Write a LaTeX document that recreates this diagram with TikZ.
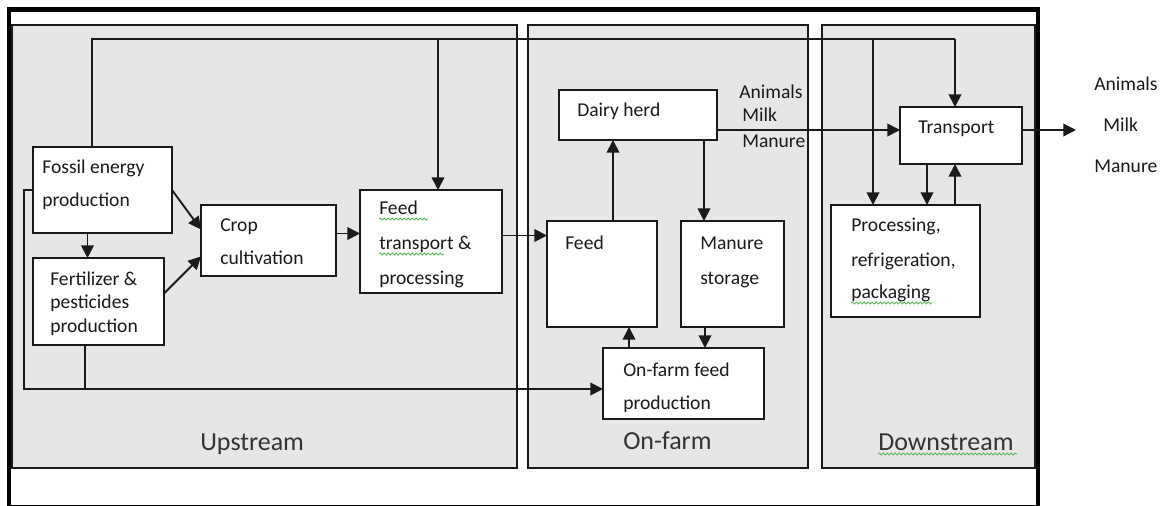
\documentclass[tikz,border=0pt]{standalone}
\usepackage{fontspec}
\setmainfont{Carlito}
\usetikzlibrary{arrows.meta,calc,fit,decorations.pathmorphing}
\definecolor{panelgray}{HTML}{E6E6E6}
\definecolor{inkc}{HTML}{1A1A1A}
\definecolor{labc}{HTML}{333333}
\definecolor{wavyc}{HTML}{5CB85C}
\begin{document}
\begin{tikzpicture}[x=0.75pt,y=-0.75pt,
  ln/.style={line width=1.4pt,draw=inkc},
  arr/.style={line width=1.4pt,draw=inkc,-{Triangle[length=9.5pt,width=9.5pt]}},
  box/.style={draw=inkc,line width=1.4pt,fill=white,inner sep=0pt,outer sep=0pt},
  panel/.style={draw=inkc,line width=1.4pt,fill=panelgray,inner sep=0pt,outer sep=0pt},
  txt/.style={anchor=base west,inner sep=0pt,text=inkc,font=\fontsize{14.7}{16}\selectfont},
  big/.style={anchor=base west,inner sep=0pt,text=labc,font=\fontsize{19.5}{22}\selectfont},
  wavy/.style={draw=wavyc,line width=0.6pt,decorate,decoration={snake,amplitude=0.8pt,segment length=3pt}}
]
\useasboundingbox (0,0) rectangle (1161,506);
\fill[white] (0,0) rectangle (1161,506);
% outer frame
\draw[line width=3.7pt,draw=black] (9,9.5) rectangle (1038,507);
% panels
\node[panel,fit={(12,25) (517,468)}] (up) {};
\node[panel,fit={(528,25) (808,468)}] (onf) {};
\node[panel,fit={(822,25) (1035,468)}] (down) {};
% boxes
\node[box,fit={(33,147) (172,233)}] (fossil) {};
\node[box,fit={(33,258) (164,345)}] (fert) {};
\node[box,fit={(201,205) (336,276)}] (crop) {};
\node[box,fit={(360,190) (502,293)}] (feedtp) {};
\node[box,fit={(559,90) (717,140)}] (dairy) {};
\node[box,fit={(547,221) (657,327)}] (feed) {};
\node[box,fit={(681,221) (784,327)}] (manure) {};
\node[box,fit={(603,348) (764,419)}] (onfarm) {};
\node[box,fit={(900,107) (1022,164)}] (transport) {};
\node[box,fit={(831,205) (980,317)}] (proc) {};
% texts
\node[txt] (t1) at (42,174) {Fossil energy};
\node[txt] (t2) at (42,207) {production};
\node[txt] (t3) at (50,286) {Fertilizer \&};
\node[txt] (t4) at (50,309) {pesticides};
\node[txt] (t5) at (50,332) {production};
\node[txt] (t6) at (220,232) {Crop};
\node[txt] (t7) at (220,264) {cultivation};
\node[txt] (t8) at (379,215) {Feed};
\node[txt] (t9) at (379,250) {transport \&};
\node[txt] (t10) at (379,284) {processing};
\node[txt] (t11) at (577,117) {Dairy herd};
\node[txt] (t12) at (565,249) {Feed};
\node[txt] (t13) at (700,249) {Manure};
\node[txt] (t14) at (700,284) {storage};
\node[txt] (t15) at (623,376) {On-farm feed};
\node[txt] (t16) at (623,409) {production};
\node[txt] (t17) at (918,134) {Transport};
\node[txt] (t18) at (851,232) {Processing,};
\node[txt] (t19) at (851,267) {refrigeration,};
\node[txt] (t20) at (851,299) {packaging};
\node[txt] (t21) at (739,99) {Animals};
\node[txt] (t22) at (742,122) {Milk};
\node[txt] (t23) at (742,148) {Manure};
\node[txt] (t24) at (1094,91) {Animals};
\node[txt] (t25) at (1103,132) {Milk};
\node[txt] (t26) at (1094,173) {Manure};
\node[big] (l1) at (200,450) {Upstream};
\node[big] (l2) at (623,449) {On-farm};
\node[big] (l3) at (878,450) {Downstream};
% spell-check underlines
\draw[wavy] (379,219) -- (428,219);
\draw[wavy] (379,254) -- (444,254);
\draw[wavy] (851,303) -- (932,303);
\draw[wavy] (878,454) -- (1017,454);
% connectors
\coordinate (bus) at (92,39);
\coordinate (b1) at (438,39);
\coordinate (b2) at (873,39);
\coordinate (tr1) at (955,39);
\draw[ln] (fossil.north -| bus) -- (bus) -- (tr1);
\draw[arr] (tr1) -- (tr1 |- transport.north);
\draw[arr] (b1) -- (b1 |- feedtp.north);
\draw[arr] (b2) -- (b2 |- proc.north);
\draw[arr] (fossil.east) -- ($(crop.west)+(0,-11)$);
\draw[arr] ($(fert.east)+(0,-8)$) -- ($(crop.west)+(0,16)$);
\draw[arr] ($(fossil.south)+(-15,0)$) coordinate (c0) -- (c0 |- fert.north);
\draw[arr] ($(crop.east)+(0,-7)$) coordinate (c1) -- (c1 -| feedtp.west);
\draw[arr] ($(feedtp.east)+(0,-6)$) coordinate (c2) -- (c2 -| feed.west);
\coordinate (lb) at (24,389);
\draw[arr] (fossil.west) -| (lb) -- (lb -| onfarm.west);
\draw[ln] ($(fert.south)+(-13.5,0)$) coordinate (c4) -- (c4 |- lb);
\draw[arr] ($(feed.north)+(11,0)$) coordinate (c5) -- (c5 |- dairy.south);
\draw[arr] ($(dairy.south east)+(-13,0)$) coordinate (c6) -- (c6 |- manure.north);
\coordinate (c7) at ($(transport.west)+(0,-5.5)$);
\draw[arr] (c7 -| dairy.east) -- (c7);
\coordinate (out) at (1076,130);
\draw[arr] (transport.east |- out) -- (out);
\draw[arr] ($(transport.south west)+(27,0)$) coordinate (c8) -- (c8 |- proc.north);
\draw[arr] (proc.north -| tr1) -- (transport.south -| tr1);
\draw[arr] ($(manure.south west)+(24,0)$) coordinate (c9) -- (c9 |- onfarm.north);
\draw[arr] ($(onfarm.north west)+(26,0)$) coordinate (c10) -- (c10 |- feed.south);
\end{tikzpicture}
\end{document}
